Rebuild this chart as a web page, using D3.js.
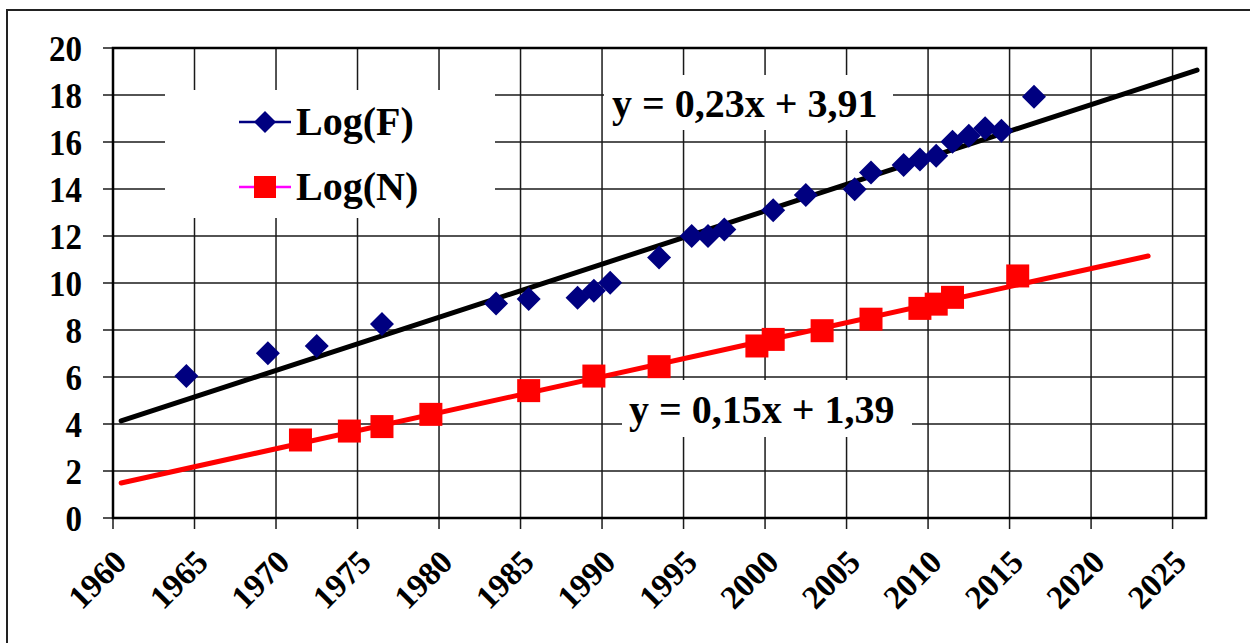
<!DOCTYPE html>
<html>
<head>
<meta charset="utf-8">
<script src="https://cdn.jsdelivr.net/npm/d3@7"></script>
<style>
  html, body { margin: 0; padding: 0; background: #fff; }
  svg { display: block; }
  text { font-family: "Liberation Serif", "Times New Roman", serif; font-weight: bold; fill: #000; }
</style>
</head>
<body>
<svg id="chart" width="1250" height="643"></svg>
<script>
// Log(F) – diamonds
const fYears = [1964.5, 1969.5, 1972.5, 1976.5, 1983.5, 1985.5, 1988.5, 1989.5, 1990.5, 1993.5,
  1995.5, 1996.5, 1997.5, 2000.5, 2002.5, 2005.5, 2006.5, 2008.5, 2009.5, 2010.5,
  2011.5, 2012.5, 2013.5, 2014.5, 2016.5]
const fValues = [6.04, 7.01, 7.32, 8.26, 9.13, 9.32, 9.37, 9.67, 10.01, 11.08,
  12.0, 12.0, 12.28, 13.1, 13.74, 13.99, 14.7, 15.02, 15.26, 15.42,
  16.01, 16.27, 16.58, 16.48, 17.93]

// Log(N) – squares
const nYears = [1971.5, 1974.5, 1976.5, 1979.5, 1985.5, 1989.5, 1993.5, 1999.5, 2000.5, 2003.5,
  2006.5, 2009.5, 2010.5, 2011.5, 2015.5]
const nValues = [3.32, 3.70, 3.89, 4.41, 5.42, 6.04, 6.44, 7.32, 7.6, 7.97,
  8.46, 8.92, 9.1, 9.39, 10.3]

// trend lines (end points)
const fTrendYears = [1960.5, 2026.5]
const fTrendValues = [4.13, 19.06]
const nTrendYears = [1960.5, 2023.5]
const nTrendValues = [1.49, 11.15]

const xTicks = [1960, 1965, 1970, 1975, 1980, 1985, 1990, 1995, 2000, 2005, 2010, 2015, 2020, 2025]
const yTicks = [0, 2, 4, 6, 8, 10, 12, 14, 16, 18, 20]
const seriesNames = ['Log(F)', 'Log(N)']
const equations = ['y = 0,23x + 3,91', 'y = 0,15x + 1,39']

const PLOT = { left: 113, right: 1206, top: 48, bottom: 518 }
const GRID = '#1a1a1a'
const FONT = '"Liberation Serif", "Times New Roman", serif'

const svg = d3.select('#chart')

// outer frame
svg.append('rect')
  .attr('x', 7).attr('y', 10)
  .attr('width', 1260).attr('height', 650)
  .attr('fill', 'none')
  .attr('stroke', '#222')
  .attr('stroke-width', 2)

const x = d3.scaleLinear().domain([1960, 2027.05]).range([PLOT.left, PLOT.right])
const y = d3.scaleLinear().domain([0, 20]).range([PLOT.bottom, PLOT.top])

// grid
const grid = svg.append('g')
grid.selectAll('.hg')
  .data(yTicks)
  .join('line')
  .attr('x1', PLOT.left - 10).attr('x2', PLOT.right)
  .attr('y1', d => y(d)).attr('y2', d => y(d))
  .attr('stroke', GRID).attr('stroke-width', 1.5)
grid.selectAll('.vg')
  .data(xTicks)
  .join('line')
  .attr('x1', d => x(d)).attr('x2', d => x(d))
  .attr('y1', PLOT.top).attr('y2', PLOT.bottom + 11)
  .attr('stroke', GRID).attr('stroke-width', 1.5)

// white label boxes hiding the grid
const boxes = [
  { x: 165, y: 90, w: 330, h: 128 },
  { x: 604, y: 75, w: 289, h: 55 },
  { x: 622, y: 380, w: 290, h: 57 }
]
svg.selectAll('.box')
  .data(boxes)
  .join('rect')
  .attr('x', d => d.x).attr('y', d => d.y)
  .attr('width', d => d.w).attr('height', d => d.h)
  .attr('fill', '#fff')

// plot frame
svg.append('rect')
  .attr('x', PLOT.left).attr('y', PLOT.top)
  .attr('width', PLOT.right - PLOT.left).attr('height', PLOT.bottom - PLOT.top)
  .attr('fill', 'none')
  .attr('stroke', '#000')
  .attr('stroke-width', 2.5)

// axes labels
const yAxis = svg.append('g')
  .attr('transform', `translate(${PLOT.left},0)`)
  .call(d3.axisLeft(y).tickValues(yTicks).tickSize(0).tickPadding(31))
  .attr('font-family', FONT)
  .attr('font-size', 33)
  .attr('font-weight', 'bold')
yAxis.select('.domain').remove()
yAxis.selectAll('text')
  .attr('dy', '0.36em')
  .attr('transform', 'scale(1,1.08)')

const xAxis = svg.append('g')
  .attr('transform', `translate(0,${PLOT.bottom})`)
  .call(d3.axisBottom(x).tickValues(xTicks).tickSize(0).tickFormat(d3.format('d')))
  .attr('font-family', FONT)
  .attr('font-size', 33)
  .attr('font-weight', 'bold')
xAxis.select('.domain').remove()
xAxis.selectAll('text')
  .attr('y', 0).attr('dy', 0)
  .attr('text-anchor', 'end')
  .attr('transform', 'translate(15,46) rotate(-45)')

// trend lines
const line = d3.line().x(d => x(d[0])).y(d => y(d[1]))
svg.append('path')
  .datum(d3.zip(fTrendYears, fTrendValues))
  .attr('d', line)
  .attr('fill', 'none')
  .attr('stroke', '#000')
  .attr('stroke-width', 5)
  .attr('stroke-linecap', 'round')
svg.append('path')
  .datum(d3.zip(nTrendYears, nTrendValues))
  .attr('d', line)
  .attr('fill', 'none')
  .attr('stroke', '#ff0000')
  .attr('stroke-width', 5)
  .attr('stroke-linecap', 'round')

// markers
const diamond = 'M0,-12L12,0L0,12L-12,0Z'
svg.append('g').selectAll('path')
  .data(d3.zip(fYears, fValues))
  .join('path')
  .attr('d', diamond)
  .attr('transform', d => `translate(${x(d[0])},${y(d[1])})`)
  .attr('fill', '#000080')
svg.append('g').selectAll('rect')
  .data(d3.zip(nYears, nValues))
  .join('rect')
  .attr('x', d => x(d[0]) - 11.5)
  .attr('y', d => y(d[1]) - 11.5)
  .attr('width', 23).attr('height', 23)
  .attr('fill', '#ff0000')

// legend
const legend = svg.append('g').attr('transform', 'translate(239,0)')
const legendRows = [
  { name: seriesNames[0], cy: 122, line: '#000080' },
  { name: seriesNames[1], cy: 187, line: '#ff00ff' }
]
legendRows.forEach((r, i) => {
  legend.append('line')
    .attr('x1', 0).attr('x2', 52)
    .attr('y1', r.cy).attr('y2', r.cy)
    .attr('stroke', r.line).attr('stroke-width', 2.5)
  if (i === 0) {
    legend.append('path')
      .attr('d', 'M0,-11L11,0L0,11L-11,0Z')
      .attr('transform', `translate(26,${r.cy})`)
      .attr('fill', '#000080')
  } else {
    legend.append('rect')
      .attr('x', 15).attr('y', r.cy - 11)
      .attr('width', 22).attr('height', 22)
      .attr('fill', '#ff0000')
  }
  legend.append('text')
    .attr('x', 57).attr('y', r.cy + 13)
    .attr('font-size', 40)
    .text(r.name)
})

// equations
svg.append('text')
  .attr('x', 612).attr('y', 117)
  .attr('font-size', 40)
  .text(equations[0])
svg.append('text')
  .attr('x', 629).attr('y', 423)
  .attr('font-size', 40)
  .text(equations[1])
</script>
</body>
</html>
